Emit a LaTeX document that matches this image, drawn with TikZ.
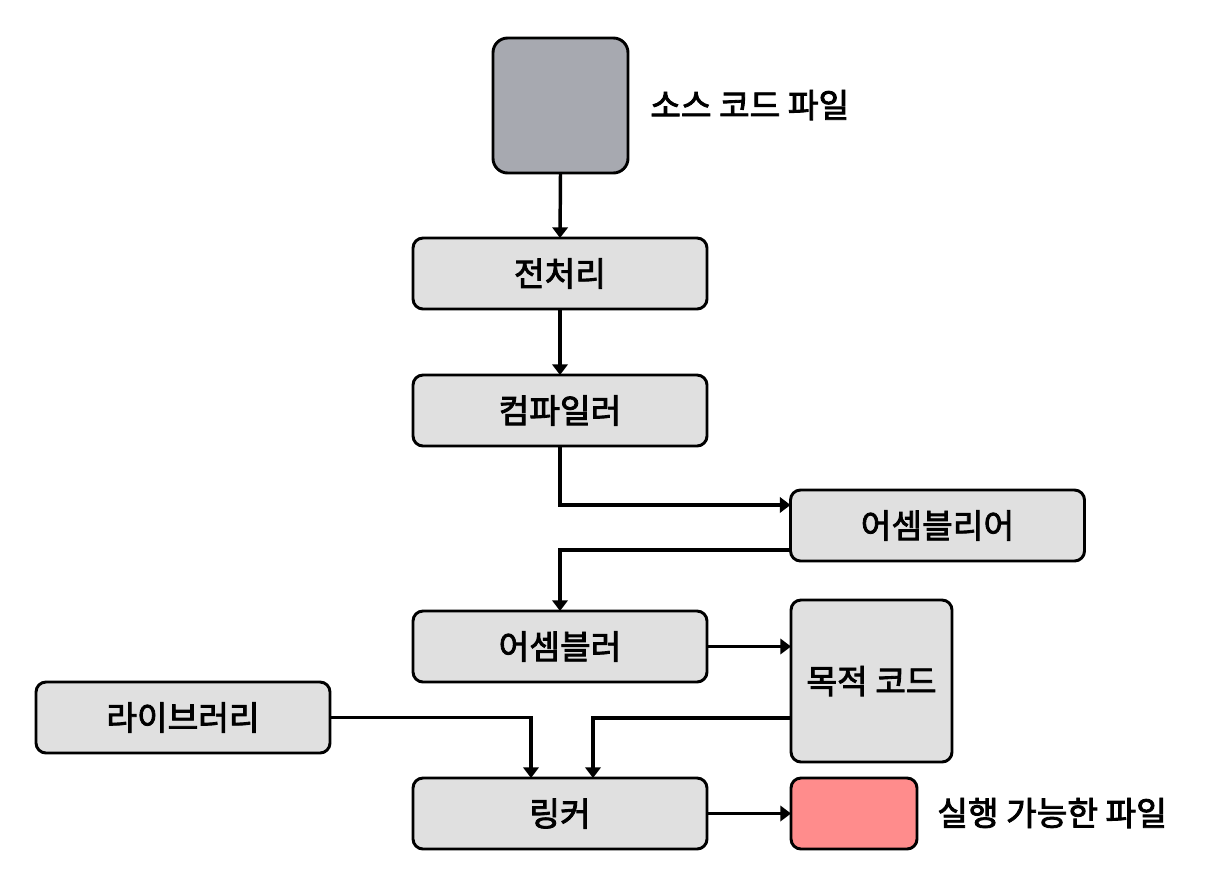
\documentclass[tikz,border=0pt]{standalone}
\usepackage{fontspec}
\setmainfont{Noto Sans CJK KR}
\newfontfamily\krmed{Noto Sans CJK KR}[FakeBold=2.5]
\usetikzlibrary{arrows.meta}
\definecolor{srcgray}{HTML}{A7A9B0}
\definecolor{boxgray}{HTML}{E0E0E0}
\definecolor{exered}{HTML}{FF8C8C}
\begin{document}
\begin{tikzpicture}[x=0.75pt,y=-0.75pt,
  box/.style={draw=black,line width=2.2pt,rounded corners=7.5pt,fill=boxgray,
    minimum width=220.5pt,minimum height=53.25pt,inner sep=0pt,outer sep=0pt,
    font=\krmed\fontsize{25}{29}\selectfont},
  lbl/.style={anchor=west,inner sep=0pt,font=\krmed\fontsize{25}{29}\selectfont},
  conn/.style={line width=2.6pt,-{Triangle[length=8pt,width=11.5pt]}}]
\useasboundingbox (0,0) rectangle (1216,894);
\node[box,fill=srcgray,minimum width=101.25pt,minimum height=101.25pt,rounded corners=11pt] (src) at (560.5,105.5) {};
\node[lbl] (srclbl) at (650,105) {소스 코드 파일};
\node[box] (pre) at (560,273.5) {전처리};
\node[box] (comp) at (560,410.5) {컴파일러};
\node[box] (asml) at (937.5,525.5) {어셈블리어};
\node[box] (asm) at (560,646.5) {어셈블러};
\node[box,minimum width=120.75pt,minimum height=121.5pt] (obj) at (871.5,681) {목적 코드};
\node[box] (lib) at (183,717.5) {라이브러리};
\node[box] (link) at (560,813.5) {링커};
\node[box,fill=exered,minimum width=94.5pt] (exe) at (854,813.5) {};
\node[lbl] (exelbl) at (937,813) {실행 가능한 파일};
\draw[conn] (src.south) -- (pre.north);
\draw[conn] (pre.south) -- (comp.north);
\draw[conn] (comp.south) |- ([yshift=15.4pt]asml.west);
\draw[conn] ([yshift=-18.4pt]asml.west) -| (asm.north);
\draw[conn] (asm.east) -- (asm.east -| obj.west);
\draw[conn] (lib.east) -| ([xshift=-21.75pt]link.north);
\draw[conn] ([yshift=-27.75pt]obj.west) -| ([xshift=24.75pt]link.north);
\draw[conn] (link.east) -- (exe.west);
\end{tikzpicture}
\end{document}
